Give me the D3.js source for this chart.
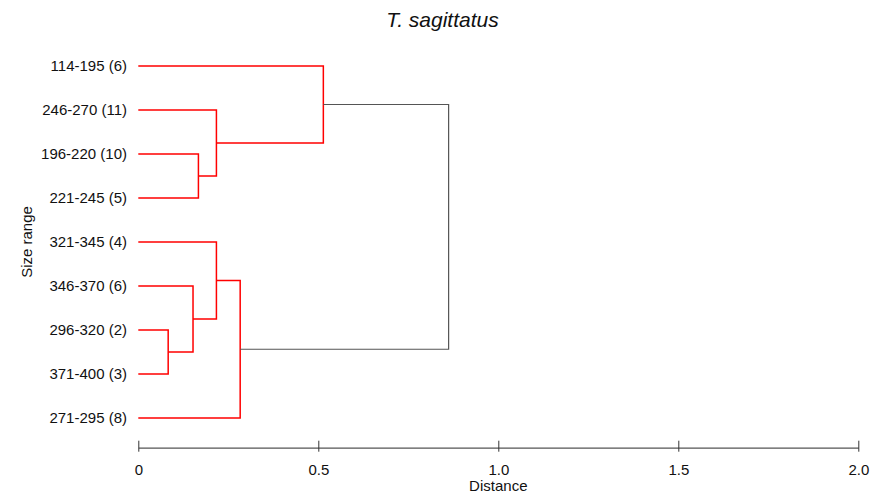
<!DOCTYPE html>
<html>
<head>
<meta charset="utf-8">
<script src="https://cdn.jsdelivr.net/npm/d3@7"></script>
<style>
  body { margin: 0; background: #fff; }
  svg { display: block; font-family: Arial, "Liberation Sans", sans-serif; }
</style>
</head>
<body>
<svg id="chart" width="883" height="499"></svg>
<script>
// leaf order top to bottom
const leaves = ["114-195 (6)", "246-270 (11)", "196-220 (10)", "221-245 (5)",
  "321-345 (4)", "346-370 (6)", "296-320 (2)", "371-400 (3)", "271-295 (8)"];

// merge steps: "#n" refers to the n-th merge (1-based)
const mergeA = ["196-220 (10)", "246-270 (11)", "114-195 (6)", "296-320 (2)", "346-370 (6)", "321-345 (4)", "271-295 (8)", "#3"];
const mergeB = ["221-245 (5)", "#1", "#2", "371-400 (3)", "#4", "#5", "#6", "#7"];
const mergeHeight = [0.167, 0.217, 0.514, 0.083, 0.152, 0.217, 0.283, 0.862];

const xTicks = [0, 0.5, 1.0, 1.5, 2.0];
const xTickLabels = ["0", "0.5", "1.0", "1.5", "2.0"];

const svg = d3.select("#chart");

const x = d3.scaleLinear().domain([0, 2]).range([138.3, 858.3]);
const y = d3.scalePoint().domain(leaves).range([66, 418]);

// positions of leaves and clusters
const pos = {};
leaves.forEach(l => pos[l] = { x: 0, y: y(l) });

const segs = [];
mergeA.forEach((a, i) => {
  const b = mergeB[i];
  const h = mergeHeight[i];
  const pa = pos[a], pb = pos[b];
  const isRoot = i === mergeA.length - 1;
  segs.push({ pts: [[pa.x, pa.y], [h, pa.y], [h, pb.y], [pb.x, pb.y]], root: isRoot });
  pos["#" + (i + 1)] = { x: h, y: (pa.y + pb.y) / 2 };
});

const line = d3.line().x(d => x(d[0])).y(d => d[1]);

svg.append("g")
  .selectAll("path")
  .data(segs)
  .join("path")
  .attr("d", d => line(d.pts))
  .attr("fill", "none")
  .attr("stroke", d => d.root ? "#555" : "#ff0000")
  .attr("stroke-width", d => d.root ? 1.2 : 1.5);

// leaf labels
svg.append("g")
  .selectAll("text")
  .data(leaves)
  .join("text")
  .attr("x", 127)
  .attr("y", d => y(d))
  .attr("dy", "0.35em")
  .attr("text-anchor", "end")
  .attr("font-size", 15)
  .attr("fill", "#111")
  .text(d => d);

// x axis
const axis = d3.axisBottom(x)
  .tickValues(xTicks)
  .tickFormat((d, i) => xTickLabels[i])
  .tickSizeInner(0)
  .tickSizeOuter(0);

const ax = svg.append("g")
  .attr("transform", "translate(0,447.7)")
  .call(axis);
ax.select(".domain").attr("stroke", "#555").attr("stroke-width", 1.2);
ax.selectAll(".tick line").attr("y1", -7).attr("y2", 4).attr("stroke", "#333");
ax.selectAll(".tick text")
  .attr("y", 17)
  .attr("font-size", 15)
  .attr("font-family", "Arial, 'Liberation Sans', sans-serif")
  .attr("fill", "#111");

svg.append("text")
  .attr("x", x(1))
  .attr("y", 491)
  .attr("text-anchor", "middle")
  .attr("font-size", 15)
  .attr("fill", "#111")
  .text("Distance");

svg.append("text")
  .attr("transform", "translate(32,242) rotate(-90)")
  .attr("text-anchor", "middle")
  .attr("font-size", 15)
  .attr("fill", "#111")
  .text("Size range");

svg.append("text")
  .attr("x", 442.5)
  .attr("y", 27)
  .attr("text-anchor", "middle")
  .attr("font-size", 21)
  .attr("font-style", "italic")
  .attr("fill", "#111")
  .text("T. sagittatus");
</script>
</body>
</html>
